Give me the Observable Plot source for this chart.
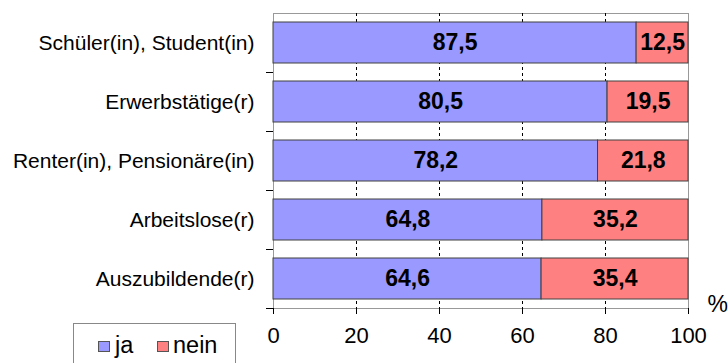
<!DOCTYPE html>
<html><head><meta charset="utf-8">
<script src="https://cdn.jsdelivr.net/npm/d3@7"></script>
<script src="https://cdn.jsdelivr.net/npm/@observablehq/plot@0.6"></script>
<style>
body{margin:0;width:728px;height:363px;overflow:hidden;background:#fff;font-family:"Liberation Sans",Arial,sans-serif;position:relative}
#chart{position:absolute;left:0;top:0}
#legend{position:absolute;left:73px;top:323px;width:163px;height:60px;border:1px solid #888;box-sizing:border-box;background:#fff;font-size:23.5px;color:#000}
#legend .sw{position:absolute;width:10px;height:9px;border:1px solid #555;box-sizing:content-box}
#legend .lb{position:absolute;line-height:24px}
</style></head><body>
<div id="chart"></div>
<div id="legend"></div>
<script>
const categories = ["Schüler(in), Student(in)", "Erwerbstätige(r)", "Renter(in), Pensionäre(in)", "Arbeitslose(r)", "Auszubildende(r)"];
const ja = [87.5, 80.5, 78.2, 64.8, 64.6];
const nein = [12.5, 19.5, 21.8, 35.2, 35.4];
const seriesNames = ["ja", "nein"];
const seriesColors = ["#9999FF", "#FF8080"];
const xTicks = [0, 20, 40, 60, 80, 100];
const unitLabel = "%";

const rows = categories.flatMap((c, i) => [
  {cat: c, series: "ja", value: ja[i]},
  {cat: c, series: "nein", value: nein[i]}
]);
const fmt = v => v.toFixed(1).replace(".", ",");

const chart = Plot.plot({
  width: 728,
  height: 363,
  marginLeft: 273,
  marginRight: 40,
  marginTop: 13,
  marginBottom: 55,
  style: {fontFamily: "'Liberation Sans', Arial, sans-serif", fontSize: "20px", background: "transparent", color: "#000"},
  x: {domain: [0, 100], axis: null},
  y: {domain: categories, paddingInner: 0.3, paddingOuter: 0.15, axis: null},
  color: {domain: seriesNames, range: seriesColors},
  marks: [
    Plot.frame({stroke: "#999"}),
    Plot.gridX(xTicks.slice(1, -1), {stroke: "#000", strokeOpacity: 1, strokeDasharray: "3,3"}),
    Plot.barX(rows, Plot.stackX({x: "value", y: "cat", fill: "series", z: "series", stroke: "#404040", strokeWidth: 1, order: seriesNames})),
    Plot.text(rows, Plot.stackX({x: "value", y: "cat", z: "series", text: d => fmt(d.value), order: seriesNames, fontWeight: "bold", fontSize: 23, fill: "#000"})),
    Plot.axisX({ticks: xTicks, tickSize: 6, tickPadding: 13, line: true, fontSize: 22, label: null, stroke: "#000"}),
    Plot.axisY({tickSize: 0, tickPadding: 19, line: true, fontSize: 21, label: null}),
    Plot.axisY({tickSize: 7, tickFormat: () => "", dy: 29.5, label: null}),
    Plot.text([unitLabel], {frameAnchor: "bottom-right", textAnchor: "start", lineAnchor: "top", dx: 19, dy: -13, fontSize: 23, fill: "#000"})
  ]
});
document.getElementById("chart").appendChild(chart);

const legend = document.getElementById("legend");
const lpos = [{sw: 24, lb: 41}, {sw: 83, lb: 99}];
seriesNames.forEach((s, i) => {
  const sw = document.createElement("div");
  sw.className = "sw";
  sw.style.left = lpos[i].sw + "px";
  sw.style.top = "17px";
  sw.style.background = seriesColors[i];
  legend.appendChild(sw);
  const lb = document.createElement("div");
  lb.className = "lb";
  lb.style.left = lpos[i].lb + "px";
  lb.style.top = "9px";
  lb.textContent = s;
  legend.appendChild(lb);
});
</script>
</body></html>
